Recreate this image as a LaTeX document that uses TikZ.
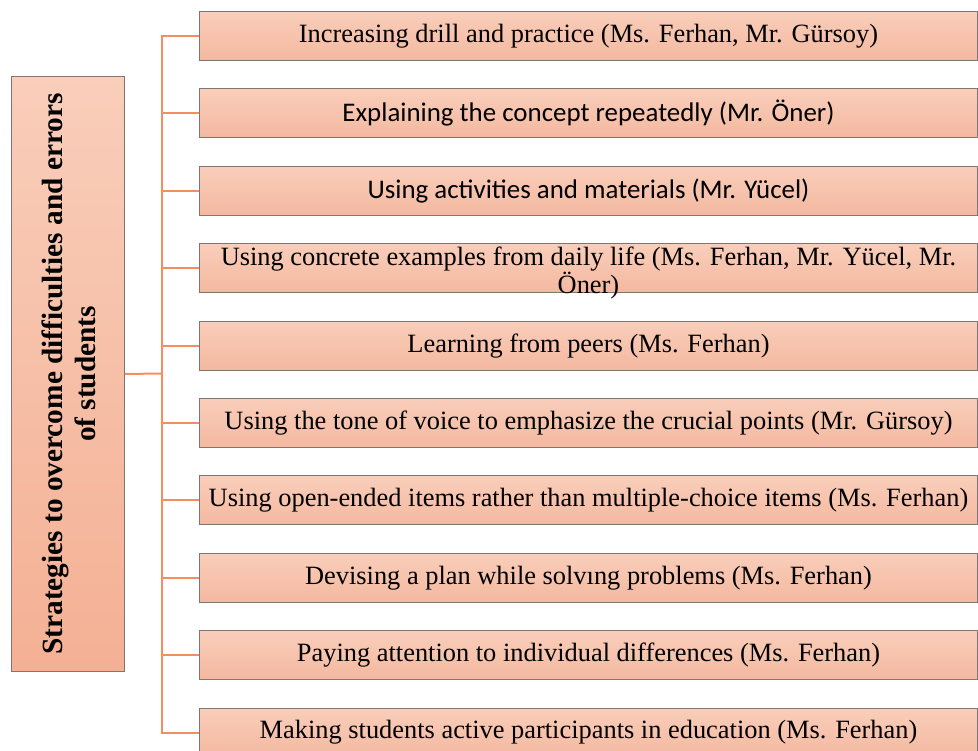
\documentclass[tikz,border=0pt]{standalone}
\usepackage{fontspec}
\setmainfont{Liberation Serif}
\newfontfamily\calib{Carlito}
\definecolor{peachtop}{RGB}{249,206,186}
\definecolor{peachbot}{RGB}{244,184,160}
\definecolor{peachdeep}{RGB}{244,176,148}
\definecolor{branch}{RGB}{242,143,94}
\definecolor{edgegray}{RGB}{125,118,115}
\tikzset{
  itembox/.style={draw=edgegray, line width=1pt, top color=peachtop, bottom color=peachbot,
    minimum width=778pt, minimum height=49pt, inner sep=0pt, anchor=north west,
    align=center, font=\fontsize{26.4}{25}\selectfont},
  calibtext/.style={font=\calib\fontsize{26.9}{26.9}\selectfont},
  rootbox/.style={draw=edgegray, line width=1pt, top color=peachtop, bottom color=peachdeep,
    minimum width=113pt, minimum height=595pt, inner sep=0pt, anchor=north west},
  link/.style={draw=branch, line width=2pt},
}
\begin{document}
\begin{tikzpicture}[x=1pt,y=-1pt]
\useasboundingbox (0,0) rectangle (978,751);
\clip (0,0) rectangle (978,751);

% root box with rotated title
\node[rootbox] (root) at (11,76) {};
\node[rotate=90, align=center, font=\fontsize{29.3}{33}\selectfont\bfseries]
  (roottext) at ([xshift=1pt]root.center) {Strategies to overcome difficulties and errors\\of students};

% strategy boxes, 77.4 apart
\node[itembox] (b1) at (199,11) {Increasing drill and practice (Ms. Ferhan, Mr. Gürsoy)};
\node[itembox, calibtext] (b2) at (199,88.4) {Explaining the concept repeatedly (Mr. Öner)};
\node[itembox, calibtext] (b3) at (199,165.8) {Using activities and materials (Mr. Yücel)};
\node[itembox] (b4) at (199,243.2) {};
\node[align=center, font=\fontsize{26.4}{25}\selectfont, inner sep=0pt] (b4text) at ([yshift=-5pt]b4.center)
  {Using concrete examples from daily life (Ms. Ferhan, Mr. Yücel, Mr.\\Öner)};
\node[itembox] (b5) at (199,320.6) {Learning from peers (Ms. Ferhan)};
\node[itembox] (b6) at (199,398) {Using the tone of voice to emphasize the crucial points (Mr. Gürsoy)};
\node[itembox] (b7) at (199,475.4) {Using open-ended items rather than multiple-choice items (Ms. Ferhan)};
\node[itembox] (b8) at (199,552.8) {Devising a plan while solvıng problems (Ms. Ferhan)};
\node[itembox] (b9) at (199,630.2) {Paying attention to individual differences (Ms. Ferhan)};
\node[itembox] (b10) at (199,707.6) {Making students active participants in education (Ms. Ferhan)};

% bracket connectors
\coordinate (trunk) at (162,373.5);
\draw[link] (root.east) -- (trunk);
\foreach \b in {b1,b2,b3,b4,b5,b6,b7,b8,b9,b10}
  \draw[link] (trunk) |- (\b.west);
\end{tikzpicture}
\end{document}
